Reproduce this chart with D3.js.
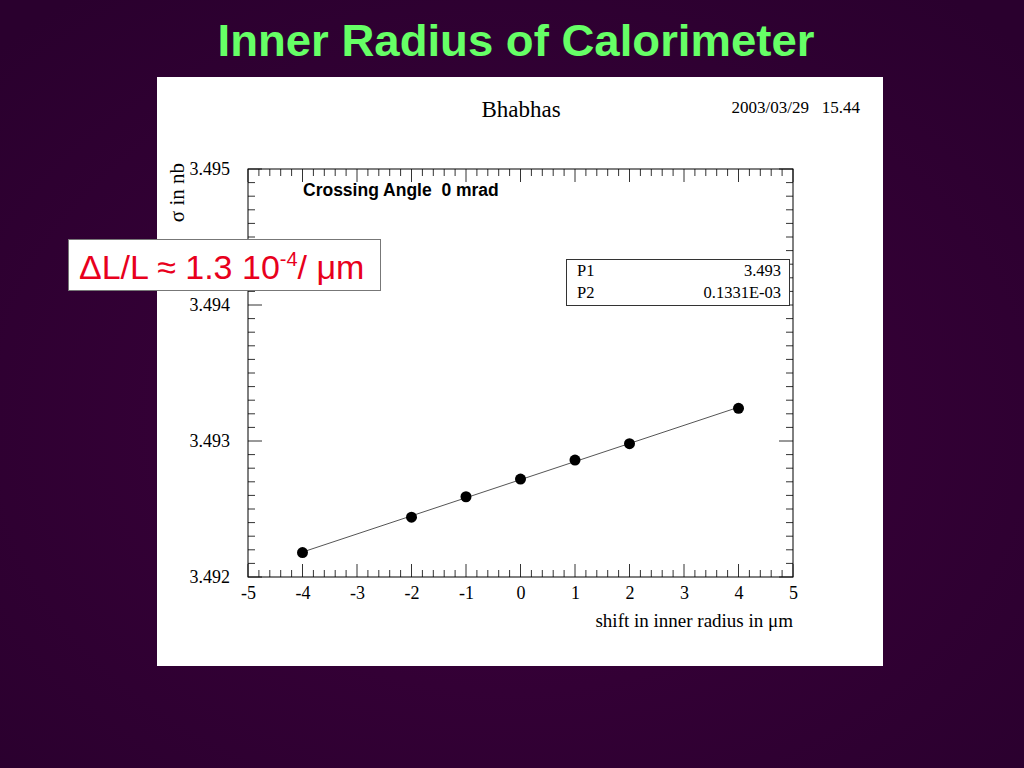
<!DOCTYPE html>
<html><head><meta charset="utf-8">
<script src="https://cdn.jsdelivr.net/npm/d3@7"></script>
<style>html,body{margin:0;padding:0;background:#300030;}svg{display:block;}</style>
</head><body>
<script>
// ---- data ----
const shifts = [-4, -2, -1, 0, 1, 2, 4];
const sigma = [3.49218, 3.49244, 3.49259, 3.49272, 3.49286, 3.49298, 3.49324];
const xTicks = [-5, -4, -3, -2, -1, 0, 1, 2, 3, 4, 5];
const yTicks = [3.492, 3.493, 3.494, 3.495];
const fitParams = [["P1", "3.493"], ["P2", "0.1331E-03"]];
const slideTitle = "Inner Radius of Calorimeter";
const plotTitle = "Bhabhas";
const dateStamp = "2003/03/29   15.44";
const xLabel = "shift in inner radius in \u03bcm";
const yLabel = "\u03c3 in nb";
const innerNote = "Crossing Angle  0 mrad";

const W = 1024, H = 768;
const svg = d3.select("body").append("svg").attr("width", W).attr("height", H);
const defs = svg.append("defs");
const rg = defs.append("radialGradient").attr("id", "bg").attr("cx", "50%").attr("cy", "55%").attr("r", "70%");
rg.append("stop").attr("offset", "0%").attr("stop-color", "#3c003c");
rg.append("stop").attr("offset", "100%").attr("stop-color", "#2a002e");
svg.append("rect").attr("width", W).attr("height", H).attr("fill", "url(#bg)");

// slide title
svg.append("text").attr("x", 516).attr("y", 56).attr("text-anchor", "middle")
  .attr("font-family", "Liberation Sans, Arial, sans-serif").attr("font-weight", "bold")
  .attr("font-size", 44).attr("fill", "#66ff66")
  .attr("textLength", 597).attr("lengthAdjust", "spacingAndGlyphs")
  .text(slideTitle);

// white panel
svg.append("rect").attr("x", 157).attr("y", 77).attr("width", 726).attr("height", 589).attr("fill", "#ffffff");

const serif = "Liberation Serif, Times New Roman, serif";
svg.append("text").attr("x", 521).attr("y", 117).attr("text-anchor", "middle")
  .attr("font-family", serif).attr("font-size", 23).attr("fill", "#000").text(plotTitle);
svg.append("text").attr("x", 860).attr("y", 113).attr("text-anchor", "end")
  .attr("font-family", serif).attr("font-size", 17).attr("fill", "#000")
  .attr("xml:space", "preserve").style("white-space", "pre").text(dateStamp);

// scales
const x = d3.scaleLinear().domain([-5, 5]).range([248, 793]);
const y = d3.scaleLinear().domain([3.492, 3.495]).range([577, 169]);
const x0 = 248, x1 = 793, y0 = 577, y1 = 169;

const g = svg.append("g");
const xMinor = d3.range(0, 51).map(i => -5 + i * 0.2);
const yMinor = d3.range(0, 31).map(i => 3.492 + i * 0.0001);
const tickCol = "#333";
xMinor.forEach((v, i) => {
  const L = (i % 5 === 0) ? 13 : 7;
  g.append("line").attr("x1", x(v)).attr("x2", x(v)).attr("y1", y0).attr("y2", y0 - L).attr("stroke", tickCol).attr("stroke-width", 1);
  g.append("line").attr("x1", x(v)).attr("x2", x(v)).attr("y1", y1).attr("y2", y1 + L).attr("stroke", tickCol).attr("stroke-width", 1);
});
yMinor.forEach((v, i) => {
  const L = (i % 10 === 0) ? 14 : 7;
  g.append("line").attr("x1", x0).attr("x2", x0 + L).attr("y1", y(v)).attr("y2", y(v)).attr("stroke", tickCol).attr("stroke-width", 1);
  g.append("line").attr("x1", x1).attr("x2", x1 - L).attr("y1", y(v)).attr("y2", y(v)).attr("stroke", tickCol).attr("stroke-width", 1);
});
g.append("rect").attr("x", x0).attr("y", y1).attr("width", x1 - x0).attr("height", y0 - y1)
  .attr("fill", "none").attr("stroke", "#000").attr("stroke-width", 1);

const xAxis = d3.axisBottom(x).tickValues(xTicks).tickSize(0).tickPadding(9).tickFormat(d => String(d));
const xa = svg.append("g").attr("transform", `translate(0,${y0})`).call(xAxis);
xa.select(".domain").remove();
xa.selectAll("text").attr("font-family", serif).attr("font-size", 18).attr("fill", "#000");

const yAxis = d3.axisLeft(y).tickValues(yTicks).tickSize(0).tickPadding(18).tickFormat(d3.format(".3f"));
const ya = svg.append("g").attr("transform", `translate(${x0},0)`).call(yAxis);
ya.select(".domain").remove();
ya.selectAll("text").attr("font-family", serif).attr("font-size", 18).attr("fill", "#000");

svg.append("text").attr("x", 793).attr("y", 627).attr("text-anchor", "end")
  .attr("font-family", serif).attr("font-size", 19).attr("fill", "#000").text(xLabel);
svg.append("text").attr("transform", "translate(184,163) rotate(-90)").attr("text-anchor", "end")
  .attr("font-family", serif).attr("font-size", 21).attr("fill", "#000").text(yLabel);

svg.append("text").attr("x", 303).attr("y", 196)
  .attr("font-family", "Liberation Sans, Arial, sans-serif").attr("font-weight", "bold")
  .attr("font-size", 17.5).attr("fill", "#000").attr("xml:space", "preserve").style("white-space", "pre").text(innerNote);

// least-squares fit from data
const mx = d3.mean(shifts), my = d3.mean(sigma);
let sxy = 0, sxx = 0;
shifts.forEach((v, i) => { sxy += (v - mx) * (sigma[i] - my); sxx += (v - mx) * (v - mx); });
const slope = sxy / sxx, icpt = my - slope * mx;
const xe = d3.extent(shifts);
svg.append("line").attr("x1", x(xe[0])).attr("y1", y(icpt + slope * xe[0]))
  .attr("x2", x(xe[1])).attr("y2", y(icpt + slope * xe[1]))
  .attr("stroke", "#555").attr("stroke-width", 1);

svg.append("g").selectAll("circle").data(shifts).join("circle")
  .attr("cx", d => x(d)).attr("cy", (d, i) => y(sigma[i])).attr("r", 5.5).attr("fill", "#000");

// stats box
svg.append("rect").attr("x", 566.5).attr("y", 259.5).attr("width", 223).attr("height", 46)
  .attr("fill", "#fff").attr("stroke", "#333").attr("stroke-width", 1);
fitParams.forEach((p, i) => {
  svg.append("text").attr("x", 577).attr("y", 276 + i * 22).attr("font-family", serif).attr("font-size", 16.5).attr("fill", "#000").text(p[0]);
  svg.append("text").attr("x", 781).attr("y", 276 + i * 22).attr("text-anchor", "end").attr("font-family", serif).attr("font-size", 16.5).attr("fill", "#000").text(p[1]);
});

// annotation box
svg.append("rect").attr("x", 68.5).attr("y", 239.5).attr("width", 312).attr("height", 51)
  .attr("fill", "#fff").attr("stroke", "#777").attr("stroke-width", 1);
const ann = svg.append("text").attr("x", 79).attr("y", 279)
  .attr("font-family", "Liberation Sans, Arial, sans-serif").attr("font-size", 34).attr("fill", "#e8001c");
ann.append("tspan").text("\u0394L/L \u2248 1.3 10");
ann.append("tspan").attr("font-size", 20).attr("dy", -13).text("-4");
ann.append("tspan").attr("dy", 13).text("/ \u03bcm");
</script>
</body></html>
